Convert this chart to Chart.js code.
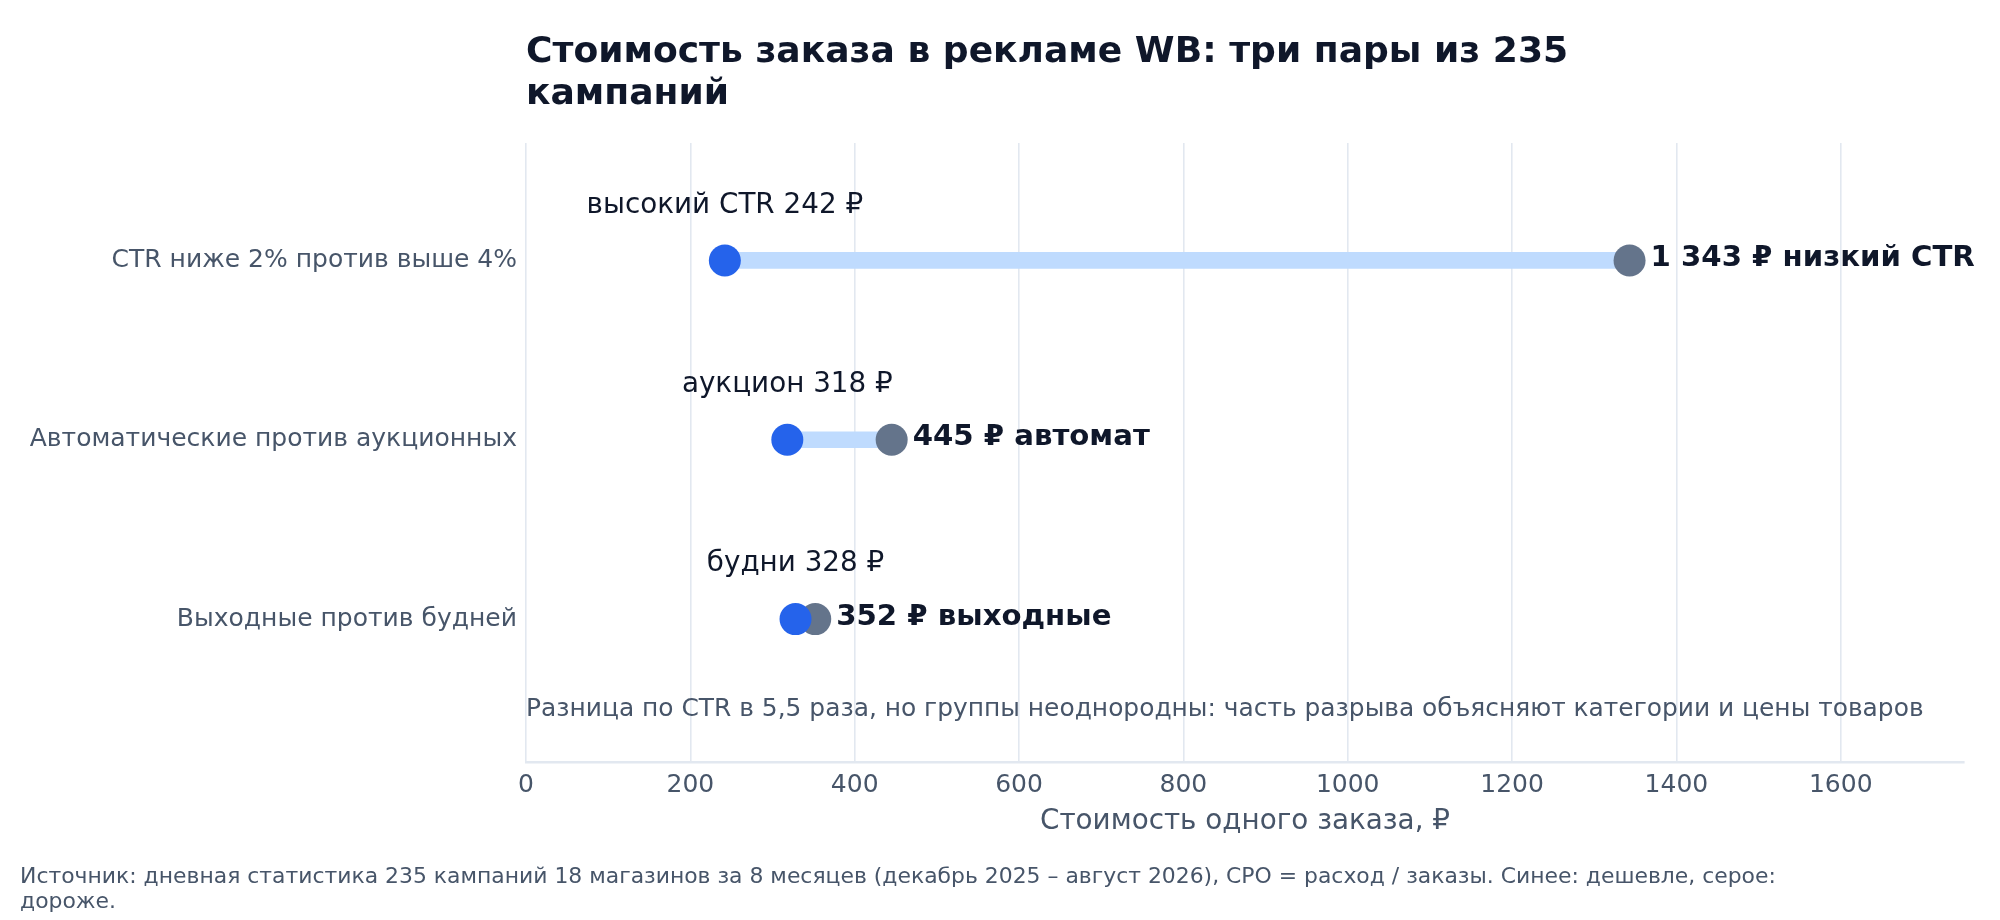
<!DOCTYPE html>
<html>
<head>
<meta charset="utf-8">
<script src="https://cdn.jsdelivr.net/npm/chart.js@4.4.1/dist/chart.umd.min.js"></script>
<style>
html,body{margin:0;padding:0;background:#fff;}
#wrap{width:2000px;height:920px;position:relative;}
</style>
</head>
<body>
<div id="wrap"><canvas id="c" width="2000" height="920"></canvas></div>
<script>
const categories = ['CTR ниже 2% против выше 4%', 'Автоматические против аукционных', 'Выходные против будней'];
const lowValues = [242, 318, 328];
const highValues = [1343, 445, 352];
const lowNames = ['высокий CTR', 'аукцион', 'будни'];
const highNames = ['низкий CTR', 'автомат', 'выходные'];
const xTicks = [0, 200, 400, 600, 800, 1000, 1200, 1400, 1600];
const titleLines = ['Стоимость заказа в рекламе WB: три пары из 235', 'кампаний'];
const xTitle = 'Стоимость одного заказа, ₽';
const noteText = 'Разница по CTR в 5,5 раза, но группы неоднородны: часть разрыва объясняют категории и цены товаров';
const sourceLines = ['Источник: дневная статистика 235 кампаний 18 магазинов за 8 месяцев (декабрь 2025 – август 2026), CPO = расход / заказы. Синее: дешевле, серое:', 'дороже.'];

const FONT = "'DejaVu Sans', sans-serif";
const fmt = v => v.toLocaleString('ru-RU').replace(/\u00a0|\u202f/g, ' ') + ' ₽';

const labelPlugin = {
  id: 'labels',
  afterDatasetsDraw(chart) {
    const ctx = chart.ctx;
    const xs = chart.scales.x, ys = chart.scales.y;
    ctx.save();
    for (let i = 0; i < categories.length; i++) {
      const y = ys.getPixelForValue(i);
      ctx.fillStyle = '#0f172a';
      ctx.font = "27.8px " + FONT;
      ctx.textAlign = 'center';
      ctx.textBaseline = 'middle';
      ctx.fillText(lowNames[i] + ' ' + fmt(lowValues[i]), xs.getPixelForValue(lowValues[i]), y - 55);
      ctx.font = "bold 29.2px " + FONT;
      ctx.textAlign = 'left';
      ctx.fillText(fmt(highValues[i]) + ' ' + highNames[i], xs.getPixelForValue(highValues[i]) + 21, y - 2);
    }
    ctx.fillStyle = '#475569';
    ctx.font = "24.9px " + FONT;
    ctx.textAlign = 'left';
    ctx.textBaseline = 'middle';
    ctx.fillText(noteText, xs.getPixelForValue(0), ys.getPixelForValue(categories.length - 0.5) + 1);
    ctx.restore();
  }
};

new Chart(document.getElementById('c'), {
  data: {
    datasets: [
      {
        type: 'bar',
        data: categories.map((c, i) => ({ x: [lowValues[i], highValues[i]], y: i })),
        backgroundColor: '#bfdbfe',
        borderWidth: 0,
        barThickness: 16,
        order: 3
      },
      {
        type: 'scatter',
        data: categories.map((c, i) => ({ x: highValues[i], y: i })),
        backgroundColor: '#64748b',
        borderWidth: 0,
        pointRadius: 16,
        pointHoverRadius: 16,
        order: 2
      },
      {
        type: 'scatter',
        data: categories.map((c, i) => ({ x: lowValues[i], y: i })),
        backgroundColor: '#2563eb',
        borderWidth: 0,
        pointRadius: 16,
        pointHoverRadius: 16,
        order: 1
      }
    ]
  },
  options: {
    indexAxis: 'y',
    responsive: false,
    animation: false,
    devicePixelRatio: 1,
    layout: { padding: { left: 20, right: 36, top: 0, bottom: 0 } },
    plugins: {
      legend: { display: false },
      tooltip: { enabled: false },
      title: {
        display: true,
        text: titleLines,
        align: 'start',
        fullSize: false,
        color: '#0f172a',
        font: { family: FONT, size: 36.1, weight: 'bold', lineHeight: 1.177 },
        padding: { top: 31, bottom: 27 }
      },
      subtitle: {
        display: true,
        position: 'bottom',
        text: sourceLines,
        align: 'start',
        fullSize: true,
        color: '#475569',
        font: { family: FONT, size: 21.9, lineHeight: 1.14 },
        padding: { top: 12.5, bottom: 5 }
      }
    },
    scales: {
      x: {
        type: 'linear',
        position: 'bottom',
        min: 0,
        max: 1750,
        offset: false,
        afterBuildTicks: s => { s.ticks = xTicks.map(v => ({ value: v })); },
        afterFit: s => { s.height = 90; },
        ticks: { color: '#475569', font: { family: FONT, size: 25 }, padding: 8, callback: v => String(v) },
        grid: { color: '#e2e8f0', lineWidth: 1.6, drawTicks: false, offset: false },
        border: { color: '#e2e8f0', width: 2.5 },
        title: {
          display: true,
          text: xTitle,
          color: '#475569',
          font: { family: FONT, size: 27.8, lineHeight: 1.2 },
          padding: { top: 0, bottom: 14 }
        }
      },
      y: {
        type: 'linear',
        position: 'left',
        min: -0.655,
        max: 2.8,
        reverse: true,
        offset: false,
        afterBuildTicks: s => { s.ticks = categories.map((c, i) => ({ value: i })); },
        afterFit: s => { s.width = 506; },
        ticks: { color: '#475569', font: { family: FONT, size: 25 }, padding: 9, callback: (v) => categories[v] },
        grid: { display: false, drawTicks: false, offset: false },
        border: { display: false }
      }
    }
  },
  plugins: [labelPlugin]
});
</script>
</body>
</html>
